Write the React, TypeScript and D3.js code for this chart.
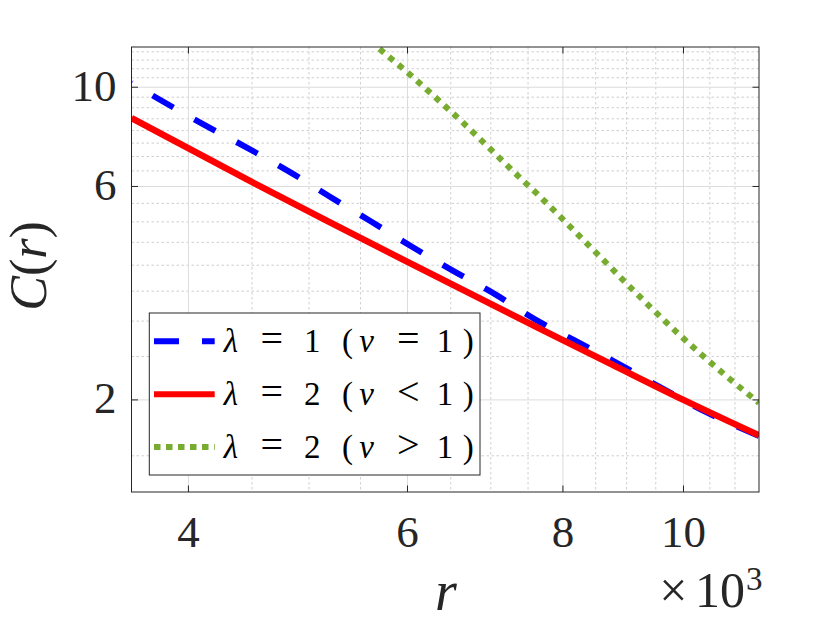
import React from "react";
import * as d3 from "d3";

const blueR = [3600, 3816, 4130, 4464, 4828, 5198, 5609, 6050, 6530, 7070, 7610, 8240, 8920, 9630, 10410, 11500];
const blueC = [10.22, 9.29, 8.21, 7.31, 6.46, 5.69, 5.01, 4.4, 3.885, 3.434, 3.02, 2.686, 2.386, 2.117, 1.883, 1.662];

const redR = [3600, 4497, 5313, 5918, 7670, 8755, 10000, 11500];
const redC = [8.53, 6.14, 4.837, 4.151, 2.883, 2.401, 2.0, 1.666];

const greenR = [5600, 5720, 6010, 6320, 6635, 6960, 7300, 7660, 8030, 8570, 9110, 9400, 9880, 10380, 10900, 11500];
const greenC = [12.7, 12.07, 10.75, 9.48, 8.38, 7.37, 6.48, 5.71, 5.01, 4.18, 3.52, 3.23, 2.83, 2.5, 2.225, 1.97];

const xDomain = [3600, 11500];
const yDomain = [1.245, 12.3];

const xTicks = [4000, 6000, 8000, 10000];
const yTicks = [2, 6, 10];
const xMinor = [4500, 5000, 5500, 6500, 7000, 7500, 8500, 9000, 9500, 10500, 11000];
const yMinor = [1.5, 2.5, 3, 3.5, 4, 4.5, 5, 5.5, 6.5, 7, 7.5, 8, 8.5, 9, 9.5, 10.5, 11, 11.5, 12];

const seriesNames = ["1", "2", "2"];
const seriesRel = ["=", "<", ">"];

const L = 131.5, R = 759, T = 47, B = 492;
const FONT = "'Liberation Serif', 'Times New Roman', 'DejaVu Serif', 'Noto Serif', serif";
const INK = "#262626";

export default function App() {
  const x = d3.scaleLog().domain(xDomain).range([L, R]);
  const y = d3.scaleLog().domain(yDomain).range([B, T]);
  const line = d3
    .line<[number, number]>()
    .x((d) => x(d[0]))
    .y((d) => y(d[1]))
    .curve(d3.curveMonotoneX);

  const zip = (a: number[], b: number[]) => a.map((v, i) => [v, b[i]] as [number, number]);
  const series = [
    { d: zip(blueR, blueC), color: "#0000FF", dash: "24 24", offset: 23.5, w: 6 },
    { d: zip(redR, redC), color: "#FF0000", dash: undefined, offset: 0, w: 6.5 },
    { d: zip(greenR, greenC), color: "#77AC30", dash: "6 6.3", offset: 0, w: 6 },
  ];
  const legendDash = ["25 23", undefined, "6.5 5.5"];

  const tickLen = 6.5;
  const rows = [341.3, 394.3, 447];
  const tf = { fontFamily: FONT };

  return (
    <svg
      width={840}
      height={630}
      style={{ position: "absolute", left: 0, top: 0, background: "#fff", fontFamily: FONT }}
    >
      <defs>
        <clipPath id="plot">
          <rect x={L} y={T} width={R - L} height={B - T} />
        </clipPath>
      </defs>
      <rect x={0} y={0} width={840} height={630} fill="#fff" />
      {/* minor grid */}
      <g stroke="#cfcfcf" strokeWidth={1} strokeDasharray="2.5 2.5">
        {xMinor.map((v) => (
          <line key={"xm" + v} x1={x(v)} x2={x(v)} y1={T} y2={B} />
        ))}
        {yMinor.map((v) => (
          <line key={"ym" + v} x1={L} x2={R} y1={y(v)} y2={y(v)} />
        ))}
      </g>
      {/* major grid */}
      <g stroke="#dcdcdc" strokeWidth={1}>
        {xTicks.map((v) => (
          <line key={"xg" + v} x1={x(v)} x2={x(v)} y1={T} y2={B} />
        ))}
        {yTicks.map((v) => (
          <line key={"yg" + v} x1={L} x2={R} y1={y(v)} y2={y(v)} />
        ))}
      </g>
      {/* series */}
      <g clipPath="url(#plot)" fill="none">
        {series.map((s, i) => (
          <path
            key={i}
            d={line(s.d) || ""}
            stroke={s.color}
            strokeWidth={s.w}
            strokeDasharray={s.dash}
            strokeDashoffset={s.offset}
            strokeLinecap="butt"
          />
        ))}
      </g>
      {/* box and ticks */}
      <rect x={L} y={T} width={R - L} height={B - T} fill="none" stroke={INK} strokeWidth={1} />
      <g stroke={INK} strokeWidth={1}>
        {xTicks.map((v) => (
          <g key={"xt" + v}>
            <line x1={x(v)} x2={x(v)} y1={B} y2={B - tickLen} />
            <line x1={x(v)} x2={x(v)} y1={T} y2={T + tickLen} />
          </g>
        ))}
        {yTicks.map((v) => (
          <g key={"yt" + v}>
            <line x1={L} x2={L + tickLen} y1={y(v)} y2={y(v)} />
            <line x1={R} x2={R - tickLen} y1={y(v)} y2={y(v)} />
          </g>
        ))}
      </g>
      {/* tick labels */}
      <g fill={INK} fontSize={45}>
        {xTicks.map((v) => (
          <text key={"xl" + v} x={x(v)} y={547} textAnchor="middle" style={tf}>
            {String(v / 1000)}
          </text>
        ))}
        {yTicks.map((v) => (
          <text key={"yl" + v} x={116.5} y={y(v) + 13.5} textAnchor="end" style={tf}>
            {String(v)}
          </text>
        ))}
      </g>
      {/* axis labels */}
      <text x={446} y={610} fontSize={56} fontStyle="italic" textAnchor="middle" fill={INK} style={tf}>
        r
      </text>
      <g fill={INK}>
        <text x={673.3} y={606.7} fontSize={50} textAnchor="middle" style={tf}>×</text>
        <text x={720} y={606.7} fontSize={50} textAnchor="middle" style={tf}>10</text>
        <text x={746} y={590} fontSize={33} textAnchor="start" style={tf}>3</text>
      </g>
      <text
        transform="translate(46,266) rotate(-90)"
        fontSize={52}
        textAnchor="middle"
        fill={INK}
        style={tf}
      >
        <tspan fontStyle="italic">C</tspan>
        <tspan>(</tspan>
        <tspan fontStyle="italic">r</tspan>
        <tspan>)</tspan>
      </text>
      {/* legend */}
      <rect x={149.3} y={313} width={330.7} height={162} fill="#fff" stroke={INK} strokeWidth={1} />
      {series.map((s, i) => {
        const yy = rows[i];
        const base = yy + 10.5;
        return (
          <g key={"lg" + i}>
            <line
              x1={154}
              x2={214.7}
              y1={yy}
              y2={yy}
              stroke={s.color}
              strokeWidth={6}
              strokeDasharray={legendDash[i]}
            />
            <g fontSize={33} fill="#000" textAnchor="middle" style={tf}>
              <text x={231} y={base} fontStyle="italic">λ</text>
              <text x={271.7} y={base} fontSize={40}>=</text>
              <text x={312.3} y={base}>{seriesNames[i]}</text>
              <text x={347.5} y={base}>(</text>
              <text x={366.7} y={base} fontStyle="italic">ν</text>
              <text x={408.3} y={base} fontSize={40}>{seriesRel[i]}</text>
              <text x={445} y={base}>1</text>
              <text x={468.3} y={base}>)</text>
            </g>
          </g>
        );
      })}
    </svg>
  );
}
